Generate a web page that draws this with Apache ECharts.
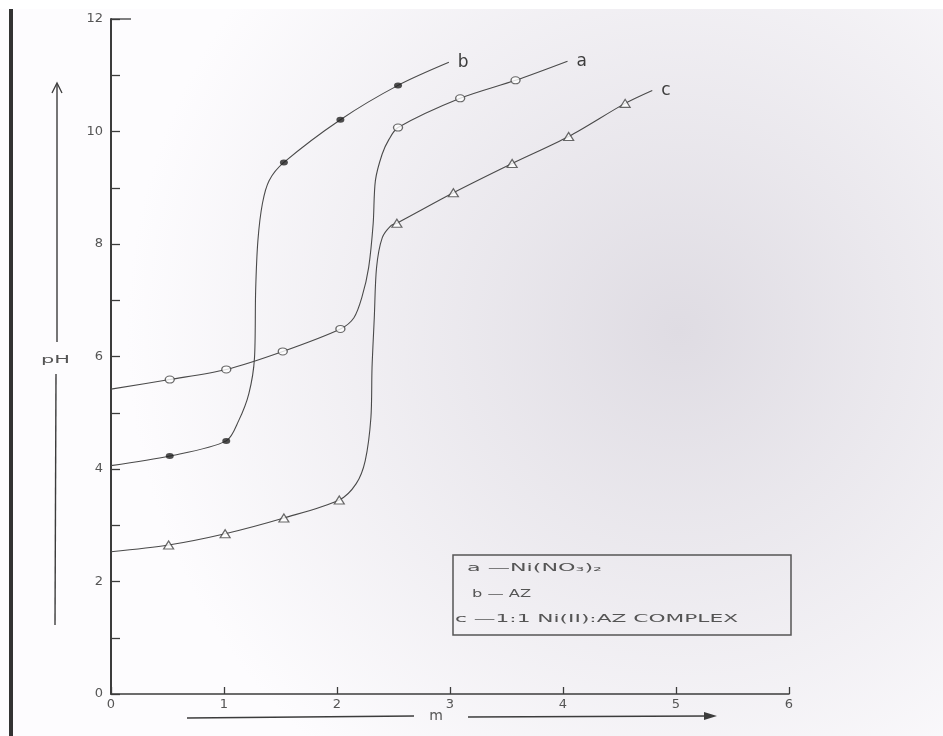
<!DOCTYPE html>
<html>
<head>
<meta charset="utf-8">
<script src="https://cdn.jsdelivr.net/npm/echarts@6/dist/echarts.min.js"></script>
<style>
  html, body { margin: 0; padding: 0; background: #fff; }
  #chart { width: 943px; height: 736px; }
</style>
</head>
<body>
<div id="chart"></div>
<script>
// ---------------------------------------------------
// Datos (m vs pH)
// ---------------------------------------------------

// a - Ni(NO3)2 : puntos medidos (circulos abiertos)
const mA  = [0.52, 1.02, 1.52, 2.03, 2.54, 3.09, 3.58];
const phA = [5.59, 5.77, 6.09, 6.49, 10.07, 10.59, 10.91];

// b - AZ : puntos medidos (circulos llenos)
const mB  = [0.52, 1.02, 1.53, 2.03, 2.54];
const phB = [4.23, 4.50, 9.45, 10.21, 10.82];

// c - 1:1 Ni(II):AZ complex : puntos medidos (triangulos)
const mC  = [0.51, 1.01, 1.53, 2.02, 2.53, 3.03, 3.55, 4.05, 4.55];
const phC = [2.65, 2.85, 3.13, 3.45, 8.37, 8.91, 9.43, 9.91, 10.50];

// curvas dibujadas a mano, trazadas sobre la imagen [m, pH]
const curveA = [[0, 5.42], [0.52, 5.59], [1.02, 5.77], [1.52, 6.09], [2.03, 6.49], [2.15, 6.69],
  [2.22, 7.05], [2.28, 7.58], [2.32, 8.36], [2.34, 9.13], [2.40, 9.60], [2.46, 9.86],
  [2.54, 10.07], [3.09, 10.59], [3.58, 10.91], [4.04, 11.25]];
const curveB = [[0, 4.06], [0.52, 4.23], [1.02, 4.50], [1.13, 4.86], [1.22, 5.34], [1.27, 5.98],
  [1.28, 7.17], [1.30, 8.06], [1.34, 8.72], [1.40, 9.13], [1.53, 9.45], [2.03, 10.21],
  [2.54, 10.82], [2.99, 11.23]];
const curveC = [[0, 2.53], [0.51, 2.65], [1.01, 2.85], [1.53, 3.13], [2.02, 3.45], [2.17, 3.74],
  [2.25, 4.15], [2.30, 4.91], [2.31, 5.80], [2.33, 6.69], [2.35, 7.58], [2.40, 8.11],
  [2.48, 8.33], [2.53, 8.37], [3.03, 8.91], [3.55, 9.43], [4.05, 9.91], [4.55, 10.50],
  [4.79, 10.73]];

const xTicks = [0, 1, 2, 3, 4, 5, 6];
const yLabels = [0, 2, 4, 6, 8, 10, 12];

const legendRows = ['a \u2014Ni(NO\u2083)\u2082', 'b \u2014 AZ', 'c \u20141:1 Ni(II):AZ COMPLEX'];

// ---------------------------------------------------
const ink = '#3c3c3c';
const txt = '#555';
const pair = (xs, ys) => xs.map((x, i) => [x, ys[i]]);

// ancho de texto para simular el espaciado ancho de la maquina de escribir
const ctx = document.createElement('canvas').getContext('2d');
function stretch(text, font, width) {
  ctx.font = font;
  return width / ctx.measureText(text).width;
}

const legendFont = '10px "DejaVu Sans"';
const legendPos = [[467, 568, 135], [472, 594, 59], [455, 619, 283]];

const chart = echarts.init(document.getElementById('chart'));

const lineSeries = (name, data) => ({
  name: name,
  type: 'line',
  data: data,
  smooth: 0.3,
  symbol: 'none',
  lineStyle: { color: '#4a4a4a', width: 1.1 },
  endLabel: { show: true, formatter: name, color: ink, fontSize: 17, fontFamily: 'DejaVu Sans', distance: 9 },
  z: 2
});

const option = {
  backgroundColor: '#fff',
  animation: false,
  grid: { left: 111, right: 154, top: 19, bottom: 42, containLabel: false, outerBoundsMode: 'none' },
  xAxis: {
    type: 'value', min: 0, max: 6, interval: 1,
    splitLine: { show: false },
    axisLine: { lineStyle: { color: ink, width: 1.5 } },
    axisTick: { inside: true, length: 7, lineStyle: { color: ink, width: 1.3 } },
    axisLabel: {
      color: txt, fontSize: 13, fontFamily: 'DejaVu Sans', margin: 4,
      formatter: v => xTicks.includes(v) ? String(v) : ''
    }
  },
  yAxis: {
    type: 'value', min: 0, max: 12, interval: 1,
    splitLine: { show: false },
    axisLine: { lineStyle: { color: ink, width: 2 } },
    axisTick: { inside: true, length: 9, lineStyle: { color: ink, width: 1.3 } },
    axisLabel: {
      color: txt, fontSize: 13, fontFamily: 'DejaVu Sans', margin: 8,
      formatter: v => yLabels.includes(v) ? String(v) : ''
    }
  },
  series: [
    lineSeries('b', curveB),
    lineSeries('a', curveA),
    lineSeries('c', curveC),
    {
      type: 'scatter', data: pair(mA, phA), symbol: 'circle', symbolSize: [9, 7],
      itemStyle: { color: '#fff', borderColor: '#444', borderWidth: 1.2 }, z: 4
    },
    {
      type: 'scatter', data: pair(mB, phB), symbol: 'circle', symbolSize: [8, 6],
      itemStyle: { color: '#222' }, z: 4
    },
    {
      type: 'scatter', data: pair(mC, phC), symbol: 'triangle', symbolSize: [10, 8],
      itemStyle: { color: '#fff', borderColor: '#444', borderWidth: 1.2 }, z: 4
    }
  ],
  graphic: [
    // sombra del escaneo
    {
      type: 'rect', z: -10, silent: true,
      shape: { x: 0, y: 0, width: 943, height: 736 },
      style: {
        fill: new echarts.graphic.RadialGradient(0.72, 0.45, 0.75, [
          { offset: 0, color: '#dfdce3' },
          { offset: 1, color: '#fdfcfe' }
        ])
      }
    },
    { type: 'rect', z: -9, silent: true, shape: { x: 0, y: 0, width: 943, height: 9 }, style: { fill: '#fff' } },
    // borde izquierdo de la hoja
    { type: 'line', silent: true, shape: { x1: 11, y1: 9, x2: 11, y2: 736 }, style: { stroke: '#333', lineWidth: 4 } },
    // tick largo en 12
    { type: 'line', silent: true, shape: { x1: 111, y1: 19, x2: 131, y2: 19 }, style: { stroke: ink, lineWidth: 1.3 } },
    // flecha pH
    { type: 'line', silent: true, shape: { x1: 57, y1: 342, x2: 57, y2: 84 }, style: { stroke: ink, lineWidth: 1.4 } },
    { type: 'polyline', silent: true, shape: { points: [[52, 93], [57, 83], [62, 93]] }, style: { stroke: ink, lineWidth: 1.3, fill: null } },
    { type: 'line', silent: true, shape: { x1: 56, y1: 374, x2: 55, y2: 625 }, style: { stroke: ink, lineWidth: 1.4 } },
    {
      type: 'text', silent: true, x: 41, y: 360, scaleX: stretch('pH', '11px "DejaVu Sans"', 29),
      style: { text: 'pH', font: '11px "DejaVu Sans"', fill: txt, align: 'left', verticalAlign: 'middle' }
    },
    // flecha m
    { type: 'line', silent: true, shape: { x1: 187, y1: 718, x2: 414, y2: 716 }, style: { stroke: ink, lineWidth: 1.6 } },
    { type: 'line', silent: true, shape: { x1: 468, y1: 717, x2: 708, y2: 716 }, style: { stroke: ink, lineWidth: 1.6 } },
    { type: 'polygon', silent: true, shape: { points: [[704, 712], [717, 716], [704, 720]] }, style: { fill: ink } },
    {
      type: 'text', silent: true, x: 436, y: 716,
      style: { text: 'm', font: '14px "DejaVu Sans"', fill: txt, align: 'center', verticalAlign: 'middle' }
    },
    // cuadro de leyenda
    {
      type: 'rect', silent: true, shape: { x: 453, y: 555, width: 338, height: 80 },
      style: { fill: 'rgba(0,0,0,0)', stroke: '#555', lineWidth: 1.5 }
    }
  ].concat(legendRows.map((t, i) => ({
    type: 'text', silent: true, x: legendPos[i][0], y: legendPos[i][1],
    scaleX: stretch(t, legendFont, legendPos[i][2]),
    style: { text: t, font: legendFont, fill: txt, align: 'left', verticalAlign: 'middle' }
  })))
};

chart.setOption(option);
</script>
</body>
</html>
